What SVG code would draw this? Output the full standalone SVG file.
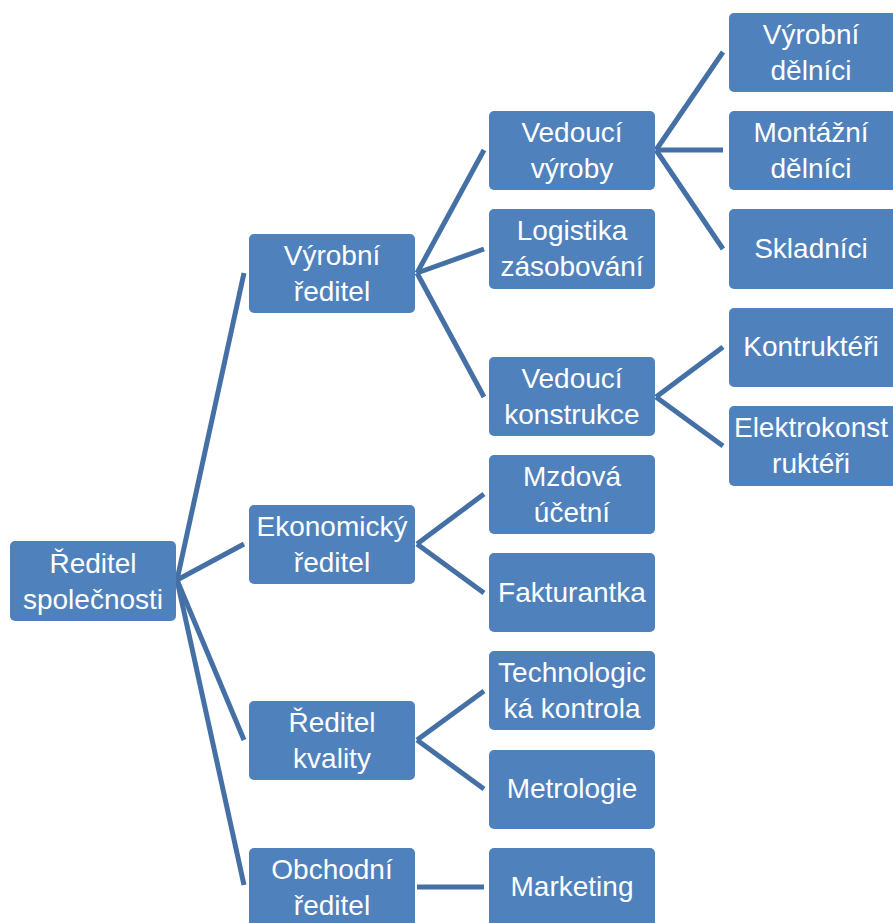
<svg xmlns="http://www.w3.org/2000/svg" width="893" height="923" viewBox="0 0 893 923">
<style>
.b{fill:#4F81BD;stroke:none}
.t{fill:#fff;font-family:"Liberation Sans",Arial,sans-serif;font-size:28px;text-anchor:middle}
.c line{stroke:#4470A6;stroke-width:5;stroke-linecap:butt}
</style>
<rect width="893" height="923" fill="#fff"/>
<g class="c" id="connectors">
<line x1="177" y1="580" x2="244" y2="273"/>
<line x1="177" y1="580" x2="244" y2="544"/>
<line x1="177" y1="580" x2="244" y2="740"/>
<line x1="177" y1="580" x2="244" y2="885"/>
<line x1="417" y1="273" x2="484" y2="150"/>
<line x1="417" y1="273" x2="484" y2="249"/>
<line x1="417" y1="273" x2="484" y2="397"/>
<line x1="417" y1="544" x2="484" y2="494"/>
<line x1="417" y1="544" x2="484" y2="593"/>
<line x1="417" y1="740" x2="484" y2="691"/>
<line x1="417" y1="740" x2="484" y2="789"/>
<line x1="417" y1="887" x2="484" y2="887"/>
<line x1="656" y1="150" x2="723" y2="52"/>
<line x1="656" y1="150" x2="723" y2="150"/>
<line x1="656" y1="150" x2="723" y2="249"/>
<line x1="656" y1="397" x2="723" y2="347"/>
<line x1="656" y1="397" x2="723" y2="446"/>
</g>
<g id="reditel-spolecnosti"><rect class="b" x="10" y="541" width="166" height="80" rx="5"/><text class="t" x="93" y="573">Ředitel</text><text class="t" x="93" y="609">společnosti</text></g>
<g id="vyrobni-reditel"><rect class="b" x="249" y="234" width="166" height="79" rx="5"/><text class="t" x="332" y="265">Výrobní</text><text class="t" x="332" y="301">ředitel</text></g>
<g id="ekonomicky-reditel"><rect class="b" x="249" y="505" width="166" height="79" rx="5"/><text class="t" x="332" y="536">Ekonomický</text><text class="t" x="332" y="572">ředitel</text></g>
<g id="reditel-kvality"><rect class="b" x="249" y="701" width="166" height="79" rx="5"/><text class="t" x="332" y="732">Ředitel</text><text class="t" x="332" y="768">kvality</text></g>
<g id="obchodni-reditel"><rect class="b" x="249" y="848" width="166" height="85" rx="5"/><text class="t" x="332" y="879">Obchodní</text><text class="t" x="332" y="915">ředitel</text></g>
<g id="vedouci-vyroby"><rect class="b" x="489" y="111" width="166" height="79" rx="5"/><text class="t" x="572" y="142">Vedoucí</text><text class="t" x="572" y="178">výroby</text></g>
<g id="logistika"><rect class="b" x="489" y="209" width="166" height="80" rx="5"/><text class="t" x="572" y="240">Logistika</text><text class="t" x="572" y="276">zásobování</text></g>
<g id="vedouci-konstrukce"><rect class="b" x="489" y="357" width="166" height="79" rx="5"/><text class="t" x="572" y="388">Vedoucí</text><text class="t" x="572" y="424">konstrukce</text></g>
<g id="mzdova-ucetni"><rect class="b" x="489" y="455" width="166" height="79" rx="5"/><text class="t" x="572" y="486">Mzdová</text><text class="t" x="572" y="522">účetní</text></g>
<g id="fakturantka"><rect class="b" x="489" y="553" width="166" height="79" rx="5"/><text class="t" x="572" y="602">Fakturantka</text></g>
<g id="technologicka-kontrola"><rect class="b" x="489" y="651" width="166" height="79" rx="5"/><text class="t" x="572" y="682">Technologic</text><text class="t" x="572" y="718">ká kontrola</text></g>
<g id="metrologie"><rect class="b" x="489" y="750" width="166" height="79" rx="5"/><text class="t" x="572" y="798">Metrologie</text></g>
<g id="marketing"><rect class="b" x="489" y="848" width="166" height="85" rx="5"/><text class="t" x="572" y="896">Marketing</text></g>
<g id="vyrobni-delnici"><rect class="b" x="729" y="13" width="170" height="79" rx="5"/><text class="t" x="811" y="44">Výrobní</text><text class="t" x="811" y="80">dělníci</text></g>
<g id="montazni-delnici"><rect class="b" x="729" y="111" width="170" height="79" rx="5"/><text class="t" x="811" y="142">Montážní</text><text class="t" x="811" y="178">dělníci</text></g>
<g id="skladnici"><rect class="b" x="729" y="209" width="170" height="80" rx="5"/><text class="t" x="811" y="258">Skladníci</text></g>
<g id="kontrukteri"><rect class="b" x="729" y="308" width="170" height="79" rx="5"/><text class="t" x="811" y="356">Kontruktéři</text></g>
<g id="elektrokonstrukteri"><rect class="b" x="729" y="406" width="170" height="80" rx="5"/><text class="t" x="811" y="437">Elektrokonst</text><text class="t" x="811" y="473">ruktéři</text></g>
</svg>
